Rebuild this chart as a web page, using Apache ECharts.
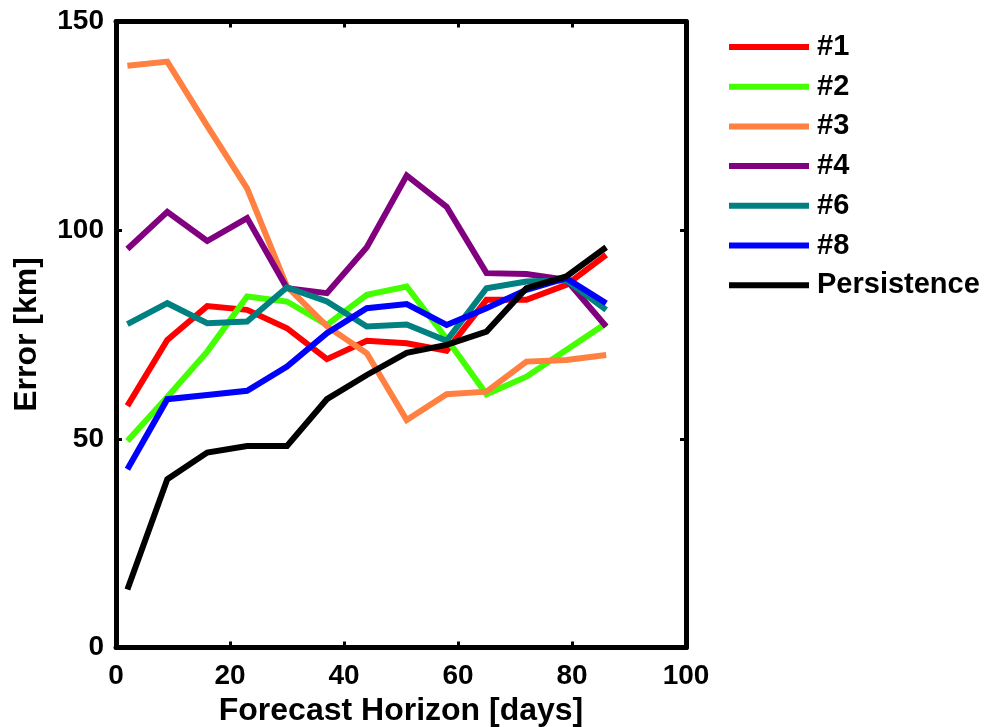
<!DOCTYPE html>
<html>
<head>
<meta charset="utf-8">
<script src="https://cdn.jsdelivr.net/npm/echarts@6/dist/echarts.min.js"></script>
<style>
html,body{margin:0;padding:0;background:#fff;}
#chart{width:1000px;height:727px;}
</style>
</head>
<body>
<div id="chart"></div>
<script>
const days = [2, 9, 16, 23, 30, 37, 44, 51, 58, 65, 72, 79, 86];
const seriesNames = ['#1', '#2', '#3', '#4', '#6', '#8', 'Persistence'];
const seriesColors = ['#ff0000', '#44ff00', '#ff8040', '#800080', '#008080', '#0000ff', '#000000'];
const err1 = [57.9, 73.7, 81.8, 80.9, 76.5, 69.1, 73.5, 72.9, 71.1, 83.3, 83.3, 86.9, 94.1];
const err2 = [49.5, 60, 70.9, 84.1, 82.9, 77.3, 84.5, 86.5, 74, 60.7, 64.9, 71.3, 77.7];
const err3 = [139.4, 140.4, 125, 110, 86.5, 77, 70.5, 54.5, 60.7, 61.3, 68.5, 68.9, 70.1];
const err4 = [95.5, 104.4, 97.4, 102.9, 86.1, 84.9, 95.9, 113.1, 105.6, 89.7, 89.5, 88.1, 76.9];
const err6 = [77.5, 82.5, 77.7, 78.1, 86.3, 82.9, 76.9, 77.4, 73.5, 86.1, 87.7, 88, 80.9];
const err8 = [42.7, 59.5, 60.5, 61.5, 67.3, 75.3, 81.3, 82.3, 77.3, 81.3, 85.7, 88.5, 82.5];
const errPersist = [13.9, 40.3, 46.7, 48.3, 48.3, 59.5, 65.3, 70.6, 72.5, 75.7, 86.1, 88.9, 95.9];
const allValues = [err1, err2, err3, err4, err6, err8, errPersist];
const xTicks = [0, 20, 40, 60, 80, 100];
const yTicks = [0, 50, 100, 150];

const FONT = '"Liberation Sans", Arial, Helvetica, sans-serif';
const chart = echarts.init(document.getElementById('chart'));

const frameAxisCommon = {
  axisLine: { show: true, onZero: false, lineStyle: { color: '#000', width: 5 } },
  axisTick: { show: true, inside: true, length: 6, lineStyle: { color: '#000', width: 3 } },
  splitLine: { show: false }
};

const option = {
  animation: false,
  backgroundColor: '#fff',
  grid: { left: 116, right: 314, top: 21.5, bottom: 79.5, containLabel: false, outerBoundsMode: 'none' },
  legend: {
    orient: 'vertical',
    left: 729,
    top: 32,
    padding: 0,
    icon: 'rect',
    itemWidth: 80,
    itemHeight: 6,
    itemGap: 9.7,
    data: seriesNames,
    textStyle: { fontFamily: FONT, fontWeight: 'bold', fontSize: 29, color: '#000', lineHeight: 30, padding: [0, 0, 0, 3] }
  },
  xAxis: [
    Object.assign({
      type: 'value', min: 0, max: 100, interval: 20, position: 'bottom',
      name: 'Forecast Horizon [days]', nameLocation: 'middle', nameGap: 48,
      nameTextStyle: { fontFamily: FONT, fontWeight: 'bold', fontSize: 32, color: '#000' },
      axisLabel: { fontFamily: FONT, fontWeight: 'bold', fontSize: 28, color: '#000', margin: 15,
        formatter: v => xTicks.includes(v) ? String(v) : '' }
    }, frameAxisCommon),
    Object.assign({
      type: 'value', min: 0, max: 100, interval: 20, position: 'top',
      axisLabel: { show: false }
    }, frameAxisCommon)
  ],
  yAxis: [
    Object.assign({
      type: 'value', min: 0, max: 150, interval: 50, position: 'left',
      name: 'Error [km]', nameLocation: 'middle', nameGap: 73,
      nameTextStyle: { fontFamily: FONT, fontWeight: 'bold', fontSize: 32, color: '#000' },
      axisLabel: { fontFamily: FONT, fontWeight: 'bold', fontSize: 28, color: '#000', margin: 12,
        formatter: v => yTicks.includes(v) ? String(v) : '' }
    }, frameAxisCommon),
    Object.assign({
      type: 'value', min: 0, max: 150, interval: 50, position: 'right',
      axisLabel: { show: false }
    }, frameAxisCommon)
  ],
  series: seriesNames.map((name, i) => ({
    name: name,
    type: 'line',
    data: days.map((d, j) => [d, allValues[i][j]]),
    showSymbol: false,
    symbol: 'none',
    color: seriesColors[i],
    lineStyle: { color: seriesColors[i], width: 6, cap: 'butt', join: 'miter' },
    itemStyle: { color: seriesColors[i] },
    z: 2 + i
  }))
};
chart.setOption(option);
</script>
</body>
</html>
